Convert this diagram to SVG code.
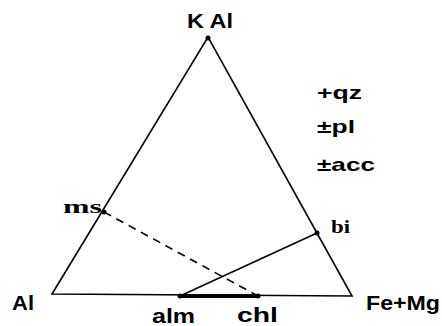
<svg xmlns="http://www.w3.org/2000/svg" width="442" height="326" viewBox="0 0 442 326">
<style>
text{font-family:"Liberation Sans",Arial,sans-serif;font-weight:bold;font-size:20px;fill:#000}
.sm{font-size:18.5px}
.sf{font-family:"Liberation Serif","Times New Roman",serif;font-size:19px}
.ln{stroke:#000;stroke-width:1.6;fill:none}
</style>
<rect width="442" height="326" fill="#fff"/>
<g id="connectors">
<path class="ln" d="M52,294 L208,37 L352,296 Z"/>
<line class="ln" x1="104" y1="212" x2="258" y2="296" stroke-dasharray="8,6"/>
<line class="ln" x1="180" y1="296" x2="317" y2="233"/>
<line x1="180" y1="296" x2="260" y2="296" stroke="#000" stroke-width="4"/>
</g>
<g id="KAl"><circle cx="208" cy="38" r="2.5"/><text x="187" y="28" textLength="46" lengthAdjust="spacingAndGlyphs">K Al</text></g>
<g id="Al"><text x="12" y="310" textLength="22" lengthAdjust="spacingAndGlyphs">Al</text></g>
<g id="FeMg"><text x="366" y="310" textLength="74" lengthAdjust="spacingAndGlyphs">Fe+Mg</text></g>
<g id="ms"><circle cx="104" cy="212" r="2.5"/><text class="sf" x="63" y="213" textLength="39" lengthAdjust="spacingAndGlyphs">ms</text></g>
<g id="bi"><circle cx="317" cy="233" r="2.5"/><text class="sf" x="331" y="233" textLength="19" lengthAdjust="spacingAndGlyphs">bi</text></g>
<g id="alm"><circle cx="180" cy="296" r="2.5"/><text x="152" y="323" textLength="43" lengthAdjust="spacingAndGlyphs">alm</text></g>
<g id="chl"><circle cx="258" cy="296" r="2.5"/><text x="237" y="322" textLength="41" lengthAdjust="spacingAndGlyphs">chl</text></g>
<g id="assemblage">
<text class="sm" x="317" y="99" textLength="45" lengthAdjust="spacingAndGlyphs">+qz</text>
<text class="sm" x="317" y="133" textLength="38" lengthAdjust="spacingAndGlyphs">±pl</text>
<text class="sm" x="317" y="171" textLength="58" lengthAdjust="spacingAndGlyphs">±acc</text>
</g>
</svg>
